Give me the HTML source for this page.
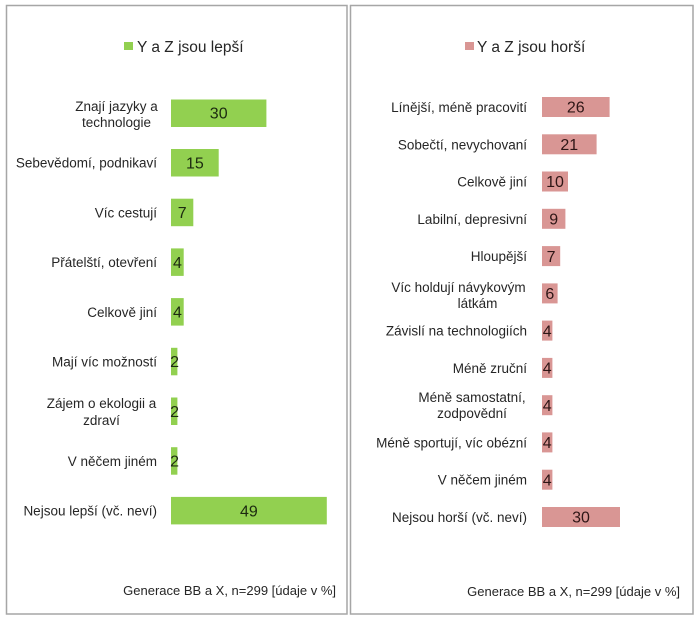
<!DOCTYPE html>
<html><head><meta charset="utf-8"><style>
html,body{margin:0;padding:0;background:#fff;}
svg{display:block;}
text{font-family:"Liberation Sans",Arial,sans-serif;}
.l{font-size:13.5px;fill:#262626;text-anchor:end;}
.c{font-size:13.5px;fill:#262626;text-anchor:middle;}
.vg{font-size:16px;fill:#1c2a10;text-anchor:middle;}
.vp{font-size:16px;fill:#2e1616;text-anchor:middle;}
.lg{font-size:15.5px;fill:#262626;}
.f{font-size:13px;fill:#262626;text-anchor:end;}
</style></head><body>
<svg width="700" height="621" viewBox="0 0 700 621" xmlns="http://www.w3.org/2000/svg">
<rect x="0" y="0" width="700" height="621" fill="#fff"/>
<rect x="6.5" y="5.5" width="340.5" height="608.5" fill="#fff" stroke="#a6a6a6" stroke-width="1.5"/>
<rect x="350.5" y="5.5" width="342.5" height="608.5" fill="#fff" stroke="#a6a6a6" stroke-width="1.5"/>

<!-- Left legend -->
<rect x="124" y="42" width="9" height="8" fill="#92d050"/>
<text class="lg" x="137" y="52">Y a Z jsou lepší</text>

<!-- Left bars -->
<g fill="#92d050">
<rect x="171" y="99.5" width="95.4" height="27.5"/>
<rect x="171" y="149" width="47.7" height="27.5"/>
<rect x="171" y="198.7" width="22.3" height="27.5"/>
<rect x="171" y="248.4" width="12.7" height="27.5"/>
<rect x="171" y="298.1" width="12.7" height="27.5"/>
<rect x="171" y="347.8" width="6.4" height="27.5"/>
<rect x="171" y="397.5" width="6.4" height="27.5"/>
<rect x="171" y="447.2" width="6.4" height="27.5"/>
<rect x="171" y="496.9" width="155.8" height="27.5"/>
</g>
<g>
<text class="vg" x="218.7" y="118.7">30</text>
<text class="vg" x="194.9" y="168.4">15</text>
<text class="vg" x="182.2" y="218.1">7</text>
<text class="vg" x="177.4" y="267.8">4</text>
<text class="vg" x="177.4" y="317.5">4</text>
<text class="vg" x="174.6" y="367.2">2</text>
<text class="vg" x="174.6" y="416.9">2</text>
<text class="vg" x="174.6" y="466.6">2</text>
<text class="vg" x="248.9" y="516.3">49</text>
</g>
<g>
<text class="c" x="116.5" y="111">Znají jazyky a</text>
<text class="c" x="116.5" y="127">technologie</text>
<text class="l" x="157" y="167.7">Sebevědomí, podnikaví</text>
<text class="l" x="157" y="217.4">Víc cestují</text>
<text class="l" x="157" y="267.1">Přátelští, otevření</text>
<text class="l" x="157" y="316.8">Celkově jiní</text>
<text class="l" x="157" y="366.5">Mají víc možností</text>
<text class="c" x="101.5" y="408">Zájem o ekologii a</text>
<text class="c" x="101.5" y="425">zdraví</text>
<text class="l" x="157" y="465.9">V něčem jiném</text>
<text class="l" x="157" y="515.6">Nejsou lepší (vč. neví)</text>
</g>
<text class="f" x="336" y="595">Generace BB a X, n=299 [údaje v %]</text>

<!-- Right legend -->
<rect x="465" y="42" width="9" height="8" fill="#d99694"/>
<text class="lg" x="477" y="52">Y a Z jsou horší</text>

<!-- Right bars -->
<g fill="#d99694">
<rect x="542" y="97" width="67.6" height="20"/>
<rect x="542" y="134.3" width="54.6" height="20"/>
<rect x="542" y="171.5" width="26" height="20"/>
<rect x="542" y="208.8" width="23.4" height="20"/>
<rect x="542" y="246.1" width="18.2" height="20"/>
<rect x="542" y="283.4" width="15.6" height="20"/>
<rect x="542" y="320.6" width="10.4" height="20"/>
<rect x="542" y="357.9" width="10.4" height="20"/>
<rect x="542" y="395.2" width="10.4" height="20"/>
<rect x="542" y="432.4" width="10.4" height="20"/>
<rect x="542" y="469.7" width="10.4" height="20"/>
<rect x="542" y="507" width="78" height="20"/>
</g>
<g>
<text class="vp" x="575.8" y="112.7">26</text>
<text class="vp" x="569.3" y="150">21</text>
<text class="vp" x="555" y="187.2">10</text>
<text class="vp" x="553.7" y="224.5">9</text>
<text class="vp" x="551.1" y="261.8">7</text>
<text class="vp" x="549.8" y="299.1">6</text>
<text class="vp" x="547.2" y="336.3">4</text>
<text class="vp" x="547.2" y="373.6">4</text>
<text class="vp" x="547.2" y="410.9">4</text>
<text class="vp" x="547.2" y="448.1">4</text>
<text class="vp" x="547.2" y="485.4">4</text>
<text class="vp" x="581" y="522.7">30</text>
</g>
<g>
<text class="l" x="527" y="112">Línější, méně pracovití</text>
<text class="l" x="527" y="149.3">Sobečtí, nevychovaní</text>
<text class="l" x="527" y="186.5">Celkově jiní</text>
<text class="l" x="527" y="223.8">Labilní, depresivní</text>
<text class="l" x="527" y="261.1">Hloupější</text>
<text class="c" x="458.5" y="292">Víc holdují návykovým</text>
<text class="c" x="477.5" y="308">látkám</text>
<text class="l" x="527" y="335.6">Závislí na technologiích</text>
<text class="l" x="527" y="372.9">Méně zruční</text>
<text class="c" x="472" y="402">Méně samostatní,</text>
<text class="c" x="472" y="418">zodpovědní</text>
<text class="l" x="527" y="447.4">Méně sportují, víc obézní</text>
<text class="l" x="527" y="484.7">V něčem jiném</text>
<text class="l" x="527" y="522">Nejsou horší (vč. neví)</text>
</g>
<text class="f" x="680" y="596">Generace BB a X, n=299 [údaje v %]</text>
</svg>
</body></html>
